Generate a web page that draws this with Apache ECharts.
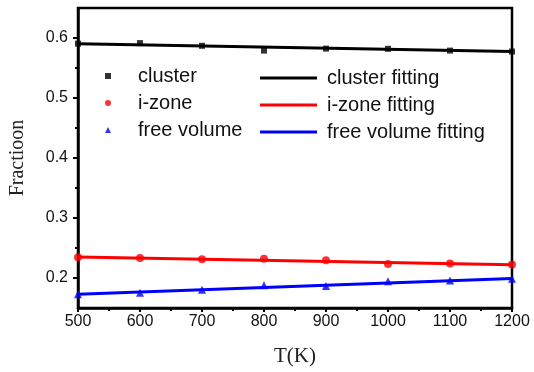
<!DOCTYPE html>
<html>
<head>
<meta charset="utf-8">
<script src="https://cdn.jsdelivr.net/npm/echarts@6/dist/echarts.min.js"></script>
<style>
  html, body { margin: 0; padding: 0; background: #fff; }
  #chart { width: 534px; height: 372px; }
</style>
</head>
<body>
<div id="chart"></div>
<script>
const temps = [500, 600, 700, 800, 900, 1000, 1100, 1200]
const cluster = [0.5906, 0.5915, 0.5870, 0.5790, 0.5823, 0.5820, 0.5790, 0.5774]
const izone = [0.2345, 0.2333, 0.2312, 0.2322, 0.2295, 0.2233, 0.2240, 0.2223]
const freeVolume = [0.1728, 0.1755, 0.1805, 0.1878, 0.1867, 0.1945, 0.1960, 0.1988]

// fitted lines, value at 500 K and at 1200 K
const fitT = [500, 1200]
const clusterFit = [0.5905, 0.5775]
const izoneFit = [0.2350, 0.2222]
const freeFit = [0.1730, 0.1990]

const yMajor = [0.2, 0.3, 0.4, 0.5, 0.6]
const yMinor = [0.25, 0.35, 0.45, 0.55]

const pair = (xs, ys) => xs.map((x, i) => [x, ys[i]])

const sans = 'Liberation Sans, Arial, sans-serif'
const serif = 'Liberation Serif, Times New Roman, serif'

const chart = echarts.init(document.getElementById('chart'))

const option = {
  animation: false,
  grid: {
    left: 73, right: 22, top: 8, bottom: 62,
    show: true, borderColor: '#000', borderWidth: 2.5
  },
  xAxis: {
    type: 'value',
    min: 500, max: 1200, interval: 100,
    name: 'T(K)',
    nameLocation: 'middle',
    nameGap: 38,
    nameTextStyle: { fontFamily: serif, fontSize: 21, color: '#222' },
    axisLine: { lineStyle: { color: '#000', width: 2.5 } },
    axisTick: { length: 4, lineStyle: { color: '#000', width: 2 } },
    minorTick: { show: true, splitNumber: 2, length: 3, lineStyle: { color: '#000', width: 2 } },
    splitLine: { show: false },
    axisLabel: { fontFamily: sans, fontSize: 16, color: '#111', margin: 6, formatter: v => String(v) }
  },
  yAxis: [{
    type: 'value',
    min: 0.15, max: 0.65,
    name: 'Fractioon',
    nameLocation: 'middle',
    nameGap: 50,
    nameTextStyle: { fontFamily: serif, fontSize: 20, color: '#222' },
    axisLine: { lineStyle: { color: '#000', width: 2.5 } },
    axisTick: { length: 5, customValues: yMajor, lineStyle: { color: '#000', width: 2 } },
    splitLine: { show: false },
    axisLabel: {
      customValues: yMajor,
      fontFamily: sans, fontSize: 16, color: '#111', margin: 10,
      formatter: v => v.toFixed(1)
    }
  }, {
    type: 'value',
    position: 'left',
    min: 0.15, max: 0.65,
    axisLine: { show: false },
    axisTick: { length: 3, customValues: yMinor, lineStyle: { color: '#000', width: 2 } },
    axisLabel: { show: false },
    splitLine: { show: false }
  }],
  legend: [{
    data: [
      { name: 'cluster', icon: 'rect' },
      { name: 'i-zone', icon: 'circle' },
      { name: 'free volume', icon: 'triangle' }
    ],
    orient: 'vertical',
    left: 105, top: 66,
    padding: 0,
    itemWidth: 6, itemHeight: 6,
    itemGap: 7,
    textStyle: { fontFamily: sans, fontSize: 20, color: '#111', padding: [0, 0, 0, 22] }
  }, {
    data: [
      { name: 'cluster fitting', icon: 'rect' },
      { name: 'i-zone fitting', icon: 'rect' },
      { name: 'free volume fitting', icon: 'rect' }
    ],
    orient: 'vertical',
    left: 260, top: 68,
    padding: 0,
    itemWidth: 57, itemHeight: 3,
    itemGap: 7,
    textStyle: { fontFamily: sans, fontSize: 20, color: '#111', padding: [0, 0, 0, 5] }
  }],
  series: [
    { name: 'cluster', type: 'scatter', symbol: 'rect', symbolSize: 6,
      itemStyle: { color: '#000' }, data: pair(temps, cluster) },
    { name: 'i-zone', type: 'scatter', symbol: 'circle', symbolSize: 8,
      itemStyle: { color: '#f00' }, data: pair(temps, izone) },
    { name: 'free volume', type: 'scatter', symbol: 'triangle', symbolSize: 8,
      itemStyle: { color: '#00f' }, data: pair(temps, freeVolume) },
    { name: 'cluster fitting', type: 'line', symbol: 'none',
      lineStyle: { color: '#000', width: 3 }, itemStyle: { color: '#000' }, data: pair(fitT, clusterFit) },
    { name: 'i-zone fitting', type: 'line', symbol: 'none',
      lineStyle: { color: '#f00', width: 3 }, itemStyle: { color: '#f00' }, data: pair(fitT, izoneFit) },
    { name: 'free volume fitting', type: 'line', symbol: 'none',
      lineStyle: { color: '#00f', width: 3 }, itemStyle: { color: '#00f' }, data: pair(fitT, freeFit) }
  ]
}

chart.setOption(option)
</script>
</body>
</html>
